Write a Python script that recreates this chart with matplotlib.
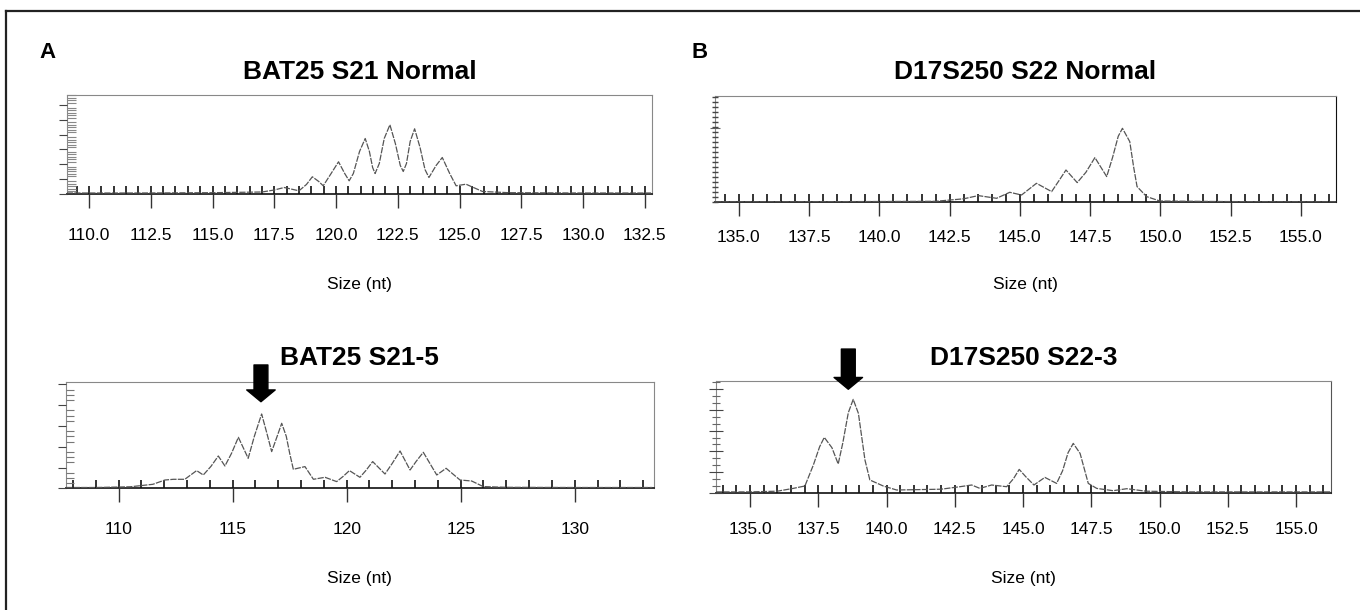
import matplotlib.pyplot as plt
from matplotlib.lines import Line2D
from matplotlib.ticker import MultipleLocator, FixedLocator, FormatStrFormatter

plt.rcParams['font.family'] = ['Liberation Sans', 'DejaVu Sans']

W, H = 1360, 610  # figure size in pixels

# BAT25 S21 Normal  (size in nt, peak height in arbitrary units)
a_top_size = [109.1, 112, 115, 117.0, 117.5, 117.9, 118.5, 118.8, 119.04, 119.3, 119.48, 119.8,
              120.1, 120.35, 120.53, 120.7, 120.95, 121.18, 121.35, 121.48, 121.58, 121.75,
              121.95, 122.18, 122.4, 122.6, 122.72, 122.85, 123.0, 123.18, 123.4, 123.6, 123.76,
              124.05, 124.3, 124.6, 124.86, 125.26, 125.93, 127, 130, 132.8]
a_top_signal = [0.5, 0.5, 0.8, 1.5, 3.5, 6, 2.7, 9, 16.7, 12, 7.7, 20,
                31.7, 20, 12.7, 20, 42, 55, 42, 26, 20, 30,
                55, 68.7, 50, 28, 22, 30, 52, 64.7, 46, 24, 16,
                28, 36, 20, 7.7, 9.3, 2, 0.8, 0.5, 0.5]

# BAT25 S21-5
a_bot_size = [107.7, 109, 110.5, 111.5, 112.03, 112.4, 112.9, 113.42, 113.71, 114.05, 114.37,
              114.66, 114.95, 115.25, 115.68, 115.95, 116.27, 116.5, 116.71, 116.95, 117.15, 117.35,
              117.5, 117.66, 118.17, 118.54, 119.05, 119.56, 119.85, 120.12, 120.58, 120.85, 121.14,
              121.68, 122.0, 122.34, 122.78, 123.05, 123.36, 123.95, 124.36, 124.97, 125.48,
              125.99, 127, 130, 133.4]
a_bot_signal = [0.8, 0.8, 1.5, 4, 8.3, 9, 9, 17.7, 13.3, 22, 32.3,
                22.3, 35, 51, 30, 52, 74.3, 55, 36.7, 52, 65, 52,
                35, 19, 21.7, 9, 11, 6.7, 12, 17.7, 11, 18, 26.7,
                14.3, 25, 37.3, 18.3, 27, 36, 13.3, 20, 8.3, 7.3,
                1.7, 1, 0.8, 0.8]

# D17S250 S22 Normal
b_top_size = [134.15, 137, 140, 142, 142.6, 143.0, 143.52, 144.17, 144.64, 145.06, 145.59, 146.13,
              146.4, 146.64, 147.04, 147.35, 147.67, 148.09, 148.3, 148.5, 148.65, 148.91, 149.05,
              149.17, 149.51, 149.98, 152, 154, 156.25]
b_top_signal = [0.5, 0.5, 0.8, 1, 2.5, 3.5, 6.7, 4, 10, 7.3, 19, 10.7,
                22, 32.3, 19.7, 30, 44.7, 25.7, 45, 66, 74, 60.7, 35,
                15.7, 5.7, 1.3, 0.8, 0.5, 0.5]

# D17S250 S22-3
b_bot_size = [133.75, 135, 136.0, 136.58, 137.01, 137.32, 137.55, 137.72, 138.0, 138.23, 138.4,
              138.6, 138.78, 138.97, 139.21, 139.39, 139.88, 140.37, 141, 142, 142.69, 143.12,
              143.42, 143.85, 144.4, 144.65, 144.86, 145.1, 145.4, 145.8, 146.23, 146.45, 146.65,
              146.84, 147.09, 147.39, 147.7, 148.3, 148.8, 149.5, 151, 153, 156.27]
b_bot_signal = [0.8, 0.8, 1.5, 4.3, 6.7, 27.7, 46, 55.3, 45, 28.7, 50,
                80, 93.3, 79.3, 32.7, 12.7, 6.7, 2.7, 3, 3.5, 6, 7.7,
                4.3, 7.7, 6, 14, 23.3, 16, 7.7, 15.3, 9.3, 22, 40,
                49.3, 39.3, 9.3, 4.3, 2, 4, 1.5, 0.8, 0.8, 0.8]

fig = plt.figure(figsize=(W / 100, H / 100), dpi=100)

# outer frame of the figure (only left and top edges visible)
fig.add_artist(Line2D([6 / W, 6 / W], [0, 1 - 10.5 / H], color='#222', lw=1.6))
fig.add_artist(Line2D([6 / W, 1], [1 - 10.5 / H, 1 - 10.5 / H], color='#222', lw=1.6))


def px_axes(left, right, top, base):
    return fig.add_axes([left / W, 1 - base / H, (right - left) / W, (base - top) / H])


def trace(ax, size, signal, xlim, ytop, xmaj, xmin, fmt, pad, right_col='#888'):
    ax.plot(size, signal, color='#555', lw=0.9, ls=(0, (5, 1)))
    ax.set_xlim(*xlim)
    ax.set_ylim(0, ytop)
    ax.xaxis.set_major_locator(MultipleLocator(xmaj))
    ax.xaxis.set_minor_locator(MultipleLocator(xmin))
    ax.xaxis.remove_overlapping_locs = False
    ax.xaxis.set_major_formatter(FormatStrFormatter(fmt))
    ax.tick_params(axis='x', which='major', direction='out', length=10, width=1,
                   color='#333', pad=pad, labelsize=12.5)
    ax.tick_params(axis='x', which='minor', direction='in', length=5.5, width=1.2, color='#111')
    ax.tick_params(axis='y', labelleft=False)
    ax.spines['bottom'].set_color('#222')
    ax.spines['bottom'].set_linewidth(1.3)
    ax.spines['top'].set_color('#888')
    ax.spines['left'].set_color('#888')
    ax.spines['right'].set_color(right_col)
    for s in ax.spines.values():
        s.set_zorder(0.5)


def labels(ax, title, title_y, size_y):
    box = ax.get_position()
    cx = (box.x0 + box.x1) / 2
    fig.text(cx, 1 - title_y / H, title, ha='center', va='center',
             fontsize=19, fontweight='bold')
    fig.text(cx, 1 - size_y / H, 'Size (nt)', ha='center', va='center', fontsize=12.5)


def arrow(ax, x, tip, top):
    ax.annotate('', xy=(x, tip), xytext=(x, top),
                xycoords=('data', 'axes fraction'), textcoords=('data', 'axes fraction'),
                arrowprops=dict(width=10, headwidth=20.5, headlength=8.5, shrink=0,
                                fc='black', ec='black'), annotation_clip=False)


# A, top
ax1 = px_axes(67.3, 652, 95.3, 193.5)
trace(ax1, a_top_size, a_top_signal, (109.12, 132.79), 98.2, 2.5, 0.5, '%.1f', 14.5)
ax1.yaxis.set_major_locator(MultipleLocator(14.7))
ax1.yaxis.set_minor_locator(MultipleLocator(2.45))
ax1.tick_params(axis='y', which='major', direction='out', length=6, color='#444')
ax1.tick_params(axis='y', which='minor', direction='in', length=6.3, width=0.8, color='#888')
labels(ax1, 'BAT25 S21 Normal', 72, 284)

# A, bottom
ax2 = px_axes(66, 653.6, 381.7, 488.3)
trace(ax2, a_bot_size, a_bot_signal, (107.69, 133.46), 106.6, 5, 1, '%d', 14)
ax2.yaxis.set_major_locator(MultipleLocator(20.8))
ax2.yaxis.set_minor_locator(MultipleLocator(5.2))
ax2.tick_params(axis='y', which='major', direction='out', length=6, color='#444')
ax2.tick_params(axis='y', which='minor', direction='in', length=6, width=0.8, color='#777')
labels(ax2, 'BAT25 S21-5', 358, 578)
arrow(ax2, 116.24, 0.812, 1.157)

# B, top
ax3 = px_axes(715, 1336, 95.7, 202.3)
trace(ax3, b_top_size, b_top_signal, (134.15, 156.25), 106.6, 2.5, 0.5, '%.1f', 10,
      right_col='#111')
ax3.yaxis.set_major_locator(FixedLocator([74.6]))
ax3.yaxis.set_minor_locator(MultipleLocator(5.0))
ax3.tick_params(axis='y', which='major', direction='inout', length=7, color='#666')
ax3.tick_params(axis='y', which='minor', direction='inout', length=4, width=1, color='#444')
labels(ax3, 'D17S250 S22 Normal', 72, 284)

# B, bottom
ax4 = px_axes(715.9, 1330.7, 381, 492.7)
trace(ax4, b_bot_size, b_bot_signal, (133.75, 156.27), 111.7, 2.5, 0.5, '%.1f', 11,
      right_col='#555')
ax4.yaxis.set_major_locator(MultipleLocator(20.7))
ax4.yaxis.set_minor_locator(MultipleLocator(6.9))
ax4.tick_params(axis='y', which='major', direction='inout', length=10, color='#444')
ax4.tick_params(axis='y', which='minor', direction='inout', length=6, width=0.8, color='#666')
labels(ax4, 'D17S250 S22-3', 358, 578)
arrow(ax4, 138.6, 0.926, 1.286)

fig.text(47 / W, 1 - 52 / H, 'A', ha='center', va='center', fontsize=16, fontweight='bold')
fig.text(700 / W, 1 - 52 / H, 'B', ha='center', va='center', fontsize=16, fontweight='bold')

fig.savefig('out.png', dpi=100)
